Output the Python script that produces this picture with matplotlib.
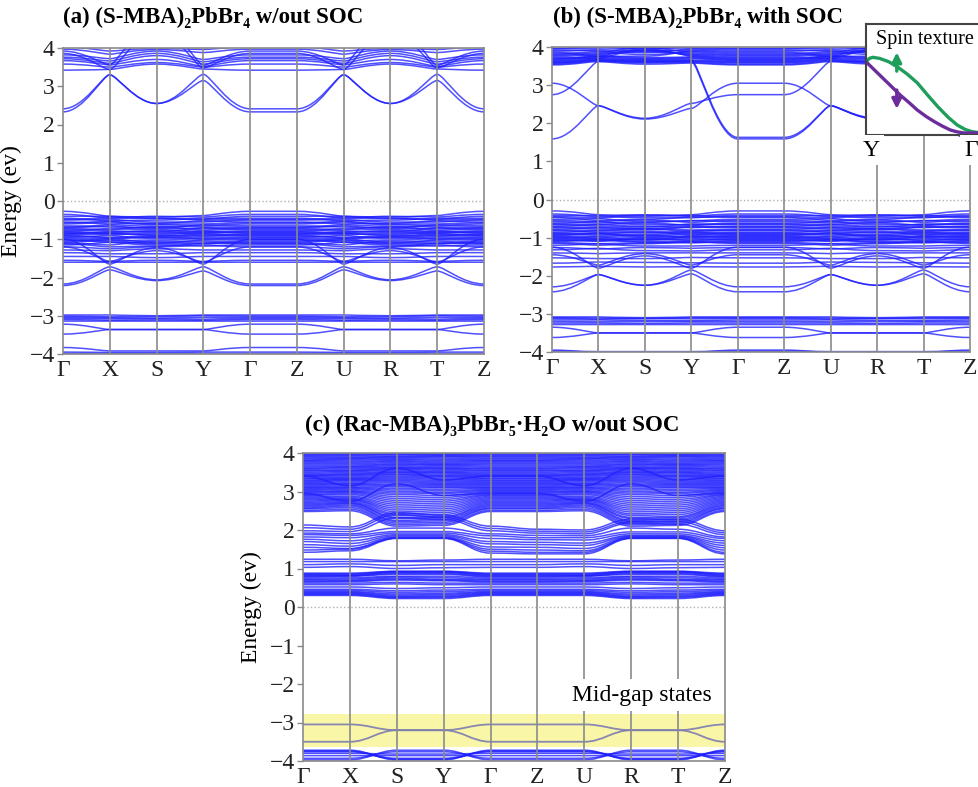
import numpy as np
import matplotlib.pyplot as plt
from matplotlib.path import Path
from matplotlib.patches import PathPatch

plt.rcParams['font.family'] = ['Liberation Serif', 'DejaVu Serif']

W, H = 979, 787

# ---------------- k-path ----------------
K_LABELS = ['Γ', 'X', 'S', 'Y', 'Γ', 'Z', 'U', 'R', 'T', 'Z']
# the kz=pi plane (Z-U-R-T-Z) repeats the kz=0 plane (Γ-X-S-Y-Γ):
# a band given by 4 values (Γ, X, S, Y) is reused there
MIRROR = [0, 1, 2, 3, 0, 0, 1, 2, 3, 0]

# ---------------- (a) S-MBA2PbBr4 w/out SOC ----------------
A_COND = [
    [2.33, 3.30, 2.55, 3.15],
    [2.41, 3.30, 2.55, 3.31],
]
A_UPPER = [
    [3.42, 3.44, 3.58, 3.45],
    [3.58, 3.50, 3.62, 3.50],
    [3.67, 3.56, 3.70, 3.52],
    [3.72, 3.60, 3.80, 3.58],
    [3.76, 3.66, 3.86, 3.64],
    [3.82, 3.72, 3.92, 3.70],
    [3.86, 3.44, 4.40, 3.48],
    [3.92, 3.56, 4.60, 3.55],
    [3.97, 3.84, 3.96, 3.88],
    [4.03, 3.92, 3.99, 3.96],
]
A_VAL = [
    [-0.27, -0.40, -0.42, -0.38],
    [-0.35, -0.45, -0.40, -0.42],
    [-0.40, -0.40, -0.45, -0.48],
    [-0.45, -0.52, -0.50, -0.45],
    [-0.48, -0.44, -0.46, -0.50],
    [-0.50, -0.48, -0.55, -0.55],
    [-0.55, -0.60, -0.58, -0.52],
    [-0.57, -0.53, -0.60, -0.60],
    [-0.60, -0.55, -0.62, -0.65],
    [-0.65, -0.68, -0.70, -0.62],
    [-0.68, -0.62, -0.66, -0.68],
    [-0.70, -0.65, -0.72, -0.72],
    [-0.72, -0.75, -0.68, -0.76],
    [-0.75, -0.78, -0.80, -0.70],
    [-0.78, -0.72, -0.75, -0.80],
    [-0.80, -0.83, -0.78, -0.84],
    [-0.82, -0.85, -0.88, -0.82],
    [-0.84, -0.88, -0.85, -0.78],
    [-0.86, -0.80, -0.82, -0.88],
    [-0.88, -0.84, -0.90, -0.92],
    [-0.90, -0.95, -0.92, -0.85],
    [-0.92, -0.97, -0.95, -0.90],
    [-0.95, -0.90, -0.98, -0.95],
    [-0.97, -1.00, -0.94, -1.00],
    [-1.00, -1.05, -1.02, -0.98],
    [-1.02, -1.08, -1.10, -1.02],
    [-1.05, -0.98, -1.08, -1.10],
    [-1.08, -1.02, -1.12, -1.12],
    [-1.10, -1.15, -1.05, -1.05],
    [-1.12, -1.20, -1.18, -1.10],
    [-1.15, -1.08, -1.15, -1.18],
    [-1.20, -1.25, -1.20, -1.15],
    [-1.28, -1.30, -1.25, -1.28],
    [-1.35, -1.38, -1.38, -1.35],
    [-1.45, -1.45, -1.48, -1.45],
    [-1.55, -1.58, -1.55, -1.58],
    [-1.60, -1.60, -1.60, -1.60],
]
A_VAL_DISP = [
    [-2.21, -1.80, -2.08, -1.83],
    [-2.17, -1.72, -2.06, -1.72],
    [-1.00, -1.65, -1.22, -1.65],
    [-1.20, -1.58, -1.30, -1.60],
]
A_DEEP = [
    [-2.98, -2.98, -3.00, -2.98],
    [-3.01, -3.03, -3.02, -3.00],
    [-3.04, -3.05, -3.06, -3.04],
    [-3.07, -3.08, -3.08, -3.09],
    [-3.10, -3.12, -3.11, -3.12],
    [-3.14, -3.14, -3.14, -3.14],
    [-3.22, -3.36, -3.36, -3.36],
    [-3.48, -3.36, -3.36, -3.36],
    [-3.83, -3.92, -3.92, -3.92],
    [-3.95, -3.96, -3.96, -3.95],
    [-3.99, -3.99, -3.99, -3.99],
]

# ---------------- (b) S-MBA2PbBr4 with SOC ----------------
B_COND = [
    [1.59, 2.46, 2.11, 2.39, 3.05, 3.05, 2.46, 2.11, 2.39, 3.05],
    [3.05, 2.46, 2.13, 2.52, 2.75, 2.75, 3.62, 3.62, 3.62, 2.75],
    [2.75, 3.62, 3.62, 3.62, 1.59, 1.59, 2.46, 2.13, 2.52, 1.59],
    [3.58, 3.66, 3.66, 3.66, 1.63, 1.63, 2.46, 2.11, 2.39, 1.63],
]
B_UPPER = [
    [3.53, 3.62, 3.55, 3.58],
    [3.55, 3.64, 3.58, 3.60],
    [3.58, 3.66, 3.60, 3.62],
    [3.60, 3.68, 3.62, 3.64],
    [3.62, 3.70, 3.65, 3.66],
    [3.64, 3.72, 3.68, 3.70],
    [3.66, 3.75, 3.70, 3.72],
    [3.68, 3.78, 3.72, 3.74],
    [3.70, 3.75, 3.95, 3.76],
    [3.72, 3.70, 3.92, 3.78],
    [3.75, 3.80, 3.90, 3.80],
    [3.78, 3.82, 3.88, 3.82],
    [3.80, 3.85, 3.98, 3.85],
    [3.83, 3.88, 3.80, 3.88],
    [3.86, 3.75, 3.76, 3.90],
    [3.89, 3.93, 3.90, 3.92],
    [3.92, 3.90, 3.85, 3.95],
    [3.95, 3.97, 3.98, 3.97],
    [3.97, 4.00, 3.95, 4.00],
]
B_VAL = [
    [-0.30, -0.40, -0.42, -0.40],
    [-0.38, -0.45, -0.40, -0.44],
    [-0.42, -0.42, -0.48, -0.48],
    [-0.45, -0.48, -0.44, -0.42],
    [-0.47, -0.55, -0.52, -0.46],
    [-0.52, -0.50, -0.58, -0.56],
    [-0.55, -0.58, -0.54, -0.60],
    [-0.58, -0.62, -0.60, -0.55],
    [-0.62, -0.58, -0.66, -0.66],
    [-0.64, -0.66, -0.62, -0.68],
    [-0.66, -0.70, -0.72, -0.64],
    [-0.70, -0.66, -0.70, -0.74],
    [-0.72, -0.74, -0.76, -0.70],
    [-0.74, -0.78, -0.80, -0.72],
    [-0.78, -0.74, -0.76, -0.80],
    [-0.80, -0.82, -0.78, -0.84],
    [-0.82, -0.86, -0.88, -0.82],
    [-0.86, -0.82, -0.84, -0.88],
    [-0.88, -0.90, -0.86, -0.92],
    [-0.90, -0.94, -0.92, -0.86],
    [-0.92, -0.88, -0.95, -0.90],
    [-0.94, -0.90, -0.98, -0.95],
    [-0.96, -0.98, -0.94, -1.00],
    [-0.98, -1.02, -1.00, -0.98],
    [-1.00, -1.04, -1.06, -0.96],
    [-1.02, -0.98, -1.06, -1.05],
    [-1.04, -1.08, -1.02, -1.08],
    [-1.06, -1.10, -1.04, -1.02],
    [-1.08, -1.04, -1.10, -1.10],
    [-1.10, -1.06, -1.12, -1.14],
    [-1.13, -1.16, -1.14, -1.12],
    [-1.15, -1.20, -1.16, -1.10],
    [-1.20, -1.16, -1.22, -1.22],
    [-1.26, -1.30, -1.26, -1.28],
    [-1.32, -1.28, -1.34, -1.35],
    [-1.40, -1.42, -1.40, -1.40],
    [-1.53, -1.55, -1.55, -1.52],
    [-1.67, -1.64, -1.65, -1.66],
    [-1.77, -1.75, -1.77, -1.76],
]
B_VAL_DISP = [
    [-2.42, -1.97, -2.25, -1.95],
    [-2.29, -1.97, -2.25, -1.85],
    [-1.45, -1.72, -1.42, -1.72],
    [-1.25, -1.80, -1.48, -1.80],
]
B_DEEP = [
    [-3.08, -3.08, -3.10, -3.08],
    [-3.10, -3.11, -3.12, -3.10],
    [-3.12, -3.14, -3.12, -3.13],
    [-3.16, -3.16, -3.17, -3.18],
    [-3.20, -3.21, -3.20, -3.20],
    [-3.24, -3.24, -3.25, -3.24],
    [-3.28, -3.28, -3.28, -3.28],
    [-3.35, -3.50, -3.50, -3.50],
    [-3.62, -3.50, -3.50, -3.50],
    [-3.95, -4.02, -4.02, -4.02],
    [-3.98, -3.99, -3.99, -3.99],
]

# spin texture inset (Y -> Γ, arbitrary energy scale)
SPIN_UP_K = [0.0, 0.03, 0.06, 0.12, 0.20, 0.28, 0.36, 0.45, 0.54, 0.63, 0.72, 0.80, 0.87, 0.93, 1.0]
SPIN_UP_E = [0.66, 0.69, 0.70, 0.69, 0.66, 0.61, 0.55, 0.47, 0.36, 0.255, 0.16, 0.09, 0.05, 0.03, 0.02]
SPIN_DN_K = [0.0, 0.08, 0.15, 0.23, 0.30, 0.38, 0.45, 0.53, 0.60, 0.67, 0.74, 0.80, 0.86, 1.0]
SPIN_DN_E = [0.66, 0.58, 0.51, 0.43, 0.36, 0.29, 0.225, 0.165, 0.12, 0.08, 0.045, 0.028, 0.018, 0.018]

# ---------------- (c) Rac-MBA3PbBr5.H2O w/out SOC ----------------
C_UPPER = [
    [2.48, 2.50, 2.10, 2.12],
    [2.51, 2.54, 2.14, 2.16],
    [2.55, 2.58, 2.18, 2.20],
    [2.57, 2.62, 2.22, 2.24],
    [2.60, 2.65, 2.25, 2.28],
    [2.63, 2.68, 2.30, 2.32],
    [2.66, 2.70, 2.33, 2.35],
    [2.69, 2.72, 2.38, 2.40],
    [2.72, 2.75, 2.42, 2.45],
    [2.75, 2.78, 2.47, 2.50],
    [2.78, 2.80, 2.52, 2.55],
    [2.81, 2.82, 2.57, 2.60],
    [2.84, 2.85, 2.62, 2.65],
    [2.87, 2.88, 2.67, 2.70],
    [2.90, 2.92, 2.72, 2.75],
    [2.92, 2.95, 2.77, 2.80],
    [2.95, 2.98, 2.82, 2.85],
    [2.98, 3.00, 2.87, 2.90],
    [3.00, 3.02, 2.92, 2.95],
    [3.03, 3.05, 2.96, 2.98],
    [3.05, 3.08, 3.00, 3.02],
    [3.08, 3.10, 3.04, 3.06],
    [3.10, 3.12, 3.08, 3.10],
    [3.12, 3.15, 3.12, 3.12],
    [3.15, 3.18, 3.15, 3.15],
    [3.18, 3.20, 3.18, 3.18],
    [3.20, 3.22, 3.22, 3.20],
    [3.23, 3.25, 3.25, 3.23],
    [3.25, 3.28, 3.28, 3.26],
    [3.28, 3.30, 3.31, 3.29],
    [3.30, 3.32, 3.34, 3.32],
    [3.33, 3.34, 3.37, 3.35],
    [3.35, 3.36, 3.40, 3.38],
    [3.38, 3.39, 3.43, 3.40],
    [3.40, 3.42, 3.45, 3.42],
    [3.42, 3.44, 3.48, 3.45],
    [3.44, 3.46, 3.50, 3.48],
    [3.47, 3.49, 3.52, 3.50],
    [3.50, 3.52, 3.55, 3.52],
    [3.53, 3.54, 3.58, 3.55],
    [3.55, 3.56, 3.60, 3.58],
    [3.58, 3.59, 3.62, 3.60],
    [3.60, 3.62, 3.64, 3.62],
    [3.63, 3.64, 3.67, 3.65],
    [3.66, 3.66, 3.70, 3.68],
    [3.69, 3.69, 3.72, 3.70],
    [3.72, 3.72, 3.75, 3.72],
    [3.75, 3.75, 3.78, 3.75],
    [3.78, 3.78, 3.80, 3.78],
    [3.80, 3.81, 3.83, 3.81],
    [3.82, 3.84, 3.85, 3.84],
    [3.85, 3.86, 3.88, 3.87],
    [3.88, 3.88, 3.90, 3.90],
    [3.91, 3.91, 3.92, 3.92],
    [3.93, 3.94, 3.95, 3.94],
    [3.96, 3.96, 3.97, 3.96],
    [3.98, 3.98, 3.99, 3.98],
    [2.95, 2.75, 3.20, 2.90],
    [3.40, 3.15, 3.60, 3.30],
]
C_MID = [
    [2.13, 2.08, 2.45, 2.38, 2.10, 2.02, 2.00, 2.28, 2.28, 1.98],
    [2.06, 2.02, 2.40, 2.33, 2.04, 1.97, 1.95, 2.22, 2.22, 1.93],
    [1.98, 1.96, 2.32, 2.28, 1.98, 1.92, 1.90, 2.18, 2.15, 1.88],
    [1.92, 1.90, 2.05, 2.05, 1.90, 1.86, 1.85, 2.05, 2.02, 1.82],
    [1.88, 1.86, 1.96, 1.96, 1.85, 1.80, 1.80, 1.95, 1.95, 1.78],
    [1.82, 1.80, 1.92, 1.92, 1.78, 1.75, 1.74, 1.90, 1.90, 1.72],
    [1.76, 1.72, 1.88, 1.88, 1.70, 1.68, 1.66, 1.86, 1.86, 1.66],
    [1.70, 1.65, 1.85, 1.85, 1.64, 1.62, 1.60, 1.84, 1.84, 1.60],
    [1.62, 1.58, 1.82, 1.82, 1.56, 1.55, 1.52, 1.82, 1.82, 1.54],
    [1.55, 1.52, 1.80, 1.80, 1.50, 1.48, 1.46, 1.80, 1.80, 1.48],
    [1.48, 1.50, 1.79, 1.79, 1.45, 1.42, 1.42, 1.79, 1.79, 1.42],
    [1.42, 1.46, 1.78, 1.78, 1.40, 1.38, 1.38, 1.78, 1.78, 1.38],
]
C_LOW = [
    [1.24, 1.24, 1.20, 1.22],
    [1.18, 1.18, 1.18, 1.18],
    [1.10, 1.12, 1.08, 1.10],
    [1.03, 1.05, 1.00, 1.02],
    [0.88, 0.88, 0.93, 0.93],
    [0.86, 0.86, 0.92, 0.92],
    [0.84, 0.84, 0.91, 0.91],
    [0.82, 0.82, 0.90, 0.90],
    [0.80, 0.81, 0.87, 0.87],
    [0.78, 0.80, 0.85, 0.85],
    [0.75, 0.76, 0.80, 0.80],
    [0.72, 0.73, 0.78, 0.76],
    [0.70, 0.70, 0.75, 0.72],
    [0.67, 0.68, 0.72, 0.70],
    [0.65, 0.66, 0.70, 0.68],
    [0.62, 0.62, 0.64, 0.62],
    [0.58, 0.58, 0.60, 0.58],
    [0.52, 0.52, 0.48, 0.50],
    [0.46, 0.46, 0.42, 0.44],
    [0.43, 0.43, 0.38, 0.40],
    [0.40, 0.40, 0.34, 0.36],
    [0.38, 0.38, 0.31, 0.33],
    [0.36, 0.36, 0.28, 0.30],
    [0.34, 0.34, 0.26, 0.27],
    [0.32, 0.32, 0.24, 0.25],
    [0.30, 0.30, 0.22, 0.22],
]
C_GAPSTATES = [
    [-3.05, -3.05, -3.20, -3.20],
    [-3.50, -3.50, -3.20, -3.20],
]
C_DEEP = [
    [-3.72, -3.72, -3.97, -3.97],
    [-3.74, -3.74, -3.95, -3.95],
    [-3.76, -3.76, -3.93, -3.93],
    [-3.80, -3.80, -3.82, -3.82],
    [-3.86, -3.86, -3.86, -3.86],
    [-3.93, -3.93, -3.76, -3.76],
    [-3.97, -3.97, -3.72, -3.72],
]
C_GAP_SPAN = (-3.63, -2.78)

# ---------------- style ----------------
BLUE = '#1f1fff'
GREY = '#8a8a8a'
GAPLINE = '#7b7bb0'
# bezier handle length at each k-point (short = kink at zone boundary)
KINK = [0.45, 0.15, 0.45, 0.15, 0.45, 0.45, 0.15, 0.45, 0.15, 0.45]
SMOOTH = [0.4] * 10


def expand(band):
    if len(band) == 4:
        return [band[i] for i in MIRROR]
    return list(band)


def draw_bands(ax, bands, handles, color=BLUE, lw=1.1, alpha=0.78):
    for band in bands:
        e = expand(band)
        verts = [(0, e[0])]
        codes = [Path.MOVETO]
        for i in range(len(e) - 1):
            verts += [(i + handles[i], e[i]), (i + 1 - handles[i + 1], e[i + 1]), (i + 1, e[i + 1])]
            codes += [Path.CURVE4] * 3
        ax.add_patch(PathPatch(Path(verts, codes), fill=False, edgecolor=color,
                               lw=lw, alpha=alpha, zorder=2))


def frame(ax, ylabel=True):
    ax.set_xlim(0, 9)
    ax.set_ylim(-4, 4)
    for k in range(1, 9):
        ax.axvline(k, color=GREY, lw=1.2, zorder=3)
    ax.axhline(0, color='#b0b0b0', lw=1.0, ls=':', zorder=1)
    ax.set_xticks(range(10))
    ax.set_xticklabels(K_LABELS)
    ax.set_yticks(range(-4, 5))
    ax.tick_params(axis='x', length=0, pad=4, labelsize=17, colors='#222222')
    ax.tick_params(axis='y', length=4, width=1, pad=2, labelsize=17,
                   color=GREY, labelcolor='#222222')
    for s in ax.spines.values():
        s.set_color(GREY)
        s.set_linewidth(1.2)
    if ylabel:
        ax.set_ylabel('Energy (ev)', fontsize=17)
        ax.yaxis.set_label_coords(-0.097, 0.5)


def px_axes(fig, left, top, right, bottom, **kw):
    return fig.add_axes([left / W, 1 - bottom / H, (right - left) / W, (bottom - top) / H], **kw)


fig = plt.figure(figsize=(W / 100, H / 100), dpi=100)

# (a)
ax_a = px_axes(fig, 63, 48, 484, 354)
for grp in (A_COND, A_UPPER, A_VAL, A_VAL_DISP, A_DEEP):
    draw_bands(ax_a, grp, KINK)
frame(ax_a)
fig.text(63 / W, 1 - 17 / H, '(a) (S-MBA)₂PbBr₄ w/out SOC', fontsize=16.5,
         fontweight='bold', va='center', ha='left')

# (b)
ax_b = px_axes(fig, 552, 47, 970, 352)
for grp in (B_COND, B_UPPER, B_VAL, B_VAL_DISP, B_DEEP):
    draw_bands(ax_b, grp, KINK)
frame(ax_b, ylabel=False)
fig.text(553 / W, 1 - 17 / H, '(b) (S-MBA)₂PbBr₄ with SOC', fontsize=16.5,
         fontweight='bold', va='center', ha='left')

# spin texture inset
ins = px_axes(fig, 866, 24, 980, 135, zorder=5)
ins.plot(SPIN_UP_K, SPIN_UP_E, color='#1e9e5a', lw=2.4)
ins.plot(SPIN_DN_K, SPIN_DN_E, color='#6b2c9c', lw=2.4)
ins.set_xlim(0, 1)
ins.set_ylim(0, 1)
ins.set_xticks([])
ins.set_yticks([])
for s in ins.spines.values():
    s.set_color('#444444')
    s.set_linewidth(1.5)
ins.text(0.09, 0.95, 'Spin texture', transform=ins.transAxes, fontsize=14.5, va='top')
ins.annotate('', xy=(0.27, 0.77), xytext=(0.27, 0.55),
             arrowprops=dict(arrowstyle='-|>', color='#1e9e5a', lw=2.4, mutation_scale=14))
ins.annotate('', xy=(0.27, 0.21), xytext=(0.27, 0.43),
             arrowprops=dict(arrowstyle='-|>', color='#6b2c9c', lw=2.4, mutation_scale=14))
for lbl, xp in (('Y', 871), ('Γ', 971)):
    fig.text(xp / W, 1 - 150 / H, lbl, fontsize=17, ha='center', va='center', zorder=6,
             bbox=dict(facecolor='white', edgecolor='none', pad=3))

# (c)
ax_c = px_axes(fig, 303, 453, 725, 761)
ax_c.axhspan(*C_GAP_SPAN, color='#faf6a8', lw=0, zorder=0.5)
for grp in (C_UPPER, C_MID, C_LOW, C_DEEP):
    draw_bands(ax_c, grp, SMOOTH)
draw_bands(ax_c, C_GAPSTATES, SMOOTH, color=GAPLINE, lw=1.3, alpha=0.9)
frame(ax_c)
ax_c.text(7.23, -2.29, 'Mid-gap states', fontsize=17, ha='center', va='center', zorder=4,
          bbox=dict(facecolor='white', edgecolor='none', pad=4))
fig.text(305 / W, 1 - 425 / H, '(c) (Rac-MBA)₃PbBr₅·H₂O w/out SOC', fontsize=16.5,
         fontweight='bold', va='center', ha='left')

fig.savefig('out.png', dpi=100)
